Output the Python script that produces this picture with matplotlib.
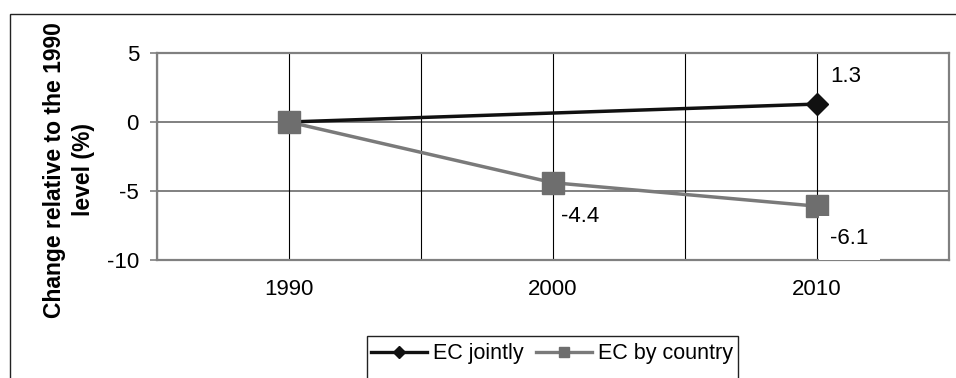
import matplotlib
matplotlib.use("Agg")
import matplotlib.pyplot as plt
from matplotlib.lines import Line2D
from matplotlib.patches import Rectangle

# ---- data ----
years_jointly = [1990, 2010]
ec_jointly = [0.0, 1.3]
years_country = [1990, 2000, 2010]
ec_by_country = [0.0, -4.4, -6.1]
x_ticks = [1985, 1990, 1995, 2000, 2005, 2010, 2015]
x_tick_labels = ["", "1990", "", "2000", "", "2010", ""]
y_ticks = [-10, -5, 0, 5]
ylabel = "Change relative to the 1990\nlevel (%)"
series_names = ["EC jointly", "EC by country"]

plt.rcParams["font.family"] = ["Liberation Sans", "DejaVu Sans"]
plt.rcParams["axes.unicode_minus"] = False
FS = 16

W, H = 956, 378
fig = plt.figure(figsize=(W / 100, H / 100), dpi=100)
ax = fig.add_axes([157 / W, 1 - 260 / H, (949 - 157) / W, (260 - 53) / H])

GRAY = "#808080"
BLACK_C = "#111111"
SER_GRAY = "#6e6e6e"

ax.set_xlim(x_ticks[0], x_ticks[-1])
ax.set_ylim(y_ticks[0], y_ticks[-1])
ax.set_xticks(x_ticks)
ax.set_xticklabels(x_tick_labels)
ax.set_yticks(y_ticks)

for y in y_ticks:
    ax.axhline(y, color=GRAY, lw=1.4, zorder=1)
for x in x_ticks:
    ax.axvline(x, color="black", lw=0.8, zorder=1)

for s in ax.spines.values():
    s.set_color(GRAY)
    s.set_linewidth(1.6)

ax.tick_params(axis="x", length=0, pad=14, labelsize=FS)
ax.tick_params(axis="y", length=5, width=1.2, color=GRAY, pad=8, labelsize=FS, direction="out")

ax.plot(years_jointly, ec_jointly, color=BLACK_C, lw=2.5, marker="D",
        markersize=11, markerfacecolor=BLACK_C, markeredgecolor=BLACK_C, zorder=3)
ax.plot(years_country, ec_by_country, color="#7a7a7a", lw=2.5, marker="s",
        markersize=15.5, markerfacecolor=SER_GRAY, markeredgecolor=SER_GRAY, zorder=4)

# data labels
ax.annotate(f"{ec_jointly[1]:.1f}", (years_jointly[1], ec_jointly[1]),
            xytext=(9.5, 20), textcoords="offset points", fontsize=FS,
            ha="left", va="center", zorder=6)
ax.annotate(f"{ec_by_country[1]:.1f}", (years_country[1], ec_by_country[1]),
            xytext=(6, -24), textcoords="offset points", fontsize=FS,
            ha="left", va="center", zorder=6)
ax.annotate(f"{ec_by_country[2]:.1f}", (years_country[2], ec_by_country[2]),
            xytext=(9.5, -23), textcoords="offset points", fontsize=FS,
            ha="left", va="center", zorder=6, annotation_clip=False,
            bbox=dict(boxstyle="square,pad=0.52", fc="white", ec="none"))

fig.text(69 / W, 1 - 170 / H, ylabel, rotation=90, fontsize=16.5, fontweight="bold",
         ha="center", va="center", multialignment="center", linespacing=1.35)

# outer chart frame
fig.patches.append(Rectangle((10 / W, -0.1), 1.2, 1 - 14 / H + 0.1,
                             transform=fig.transFigure, fill=False,
                             ec="#222222", lw=1.0))

# legend
handles = [
    Line2D([], [], color=BLACK_C, lw=2.4, marker="D", markersize=6.5,
           markerfacecolor=BLACK_C, markeredgecolor=BLACK_C),
    Line2D([], [], color="#7a7a7a", lw=2.4, marker="s", markersize=7.5,
           markerfacecolor=SER_GRAY, markeredgecolor=SER_GRAY),
]
fig.legend(handles, series_names, loc="center", bbox_to_anchor=(552 / W, 1 - 354 / H),
           ncol=2, frameon=False, fontsize=15.5, handlelength=2.6, handletextpad=0.25,
           columnspacing=0.6, borderaxespad=0)
fig.patches.append(Rectangle((367 / W, -0.1), (738 - 367) / W, 0.1 + 1 - 336 / H,
                             transform=fig.transFigure, fill=False,
                             ec="#222222", lw=1.0))

fig.savefig("out.png", dpi=100)
